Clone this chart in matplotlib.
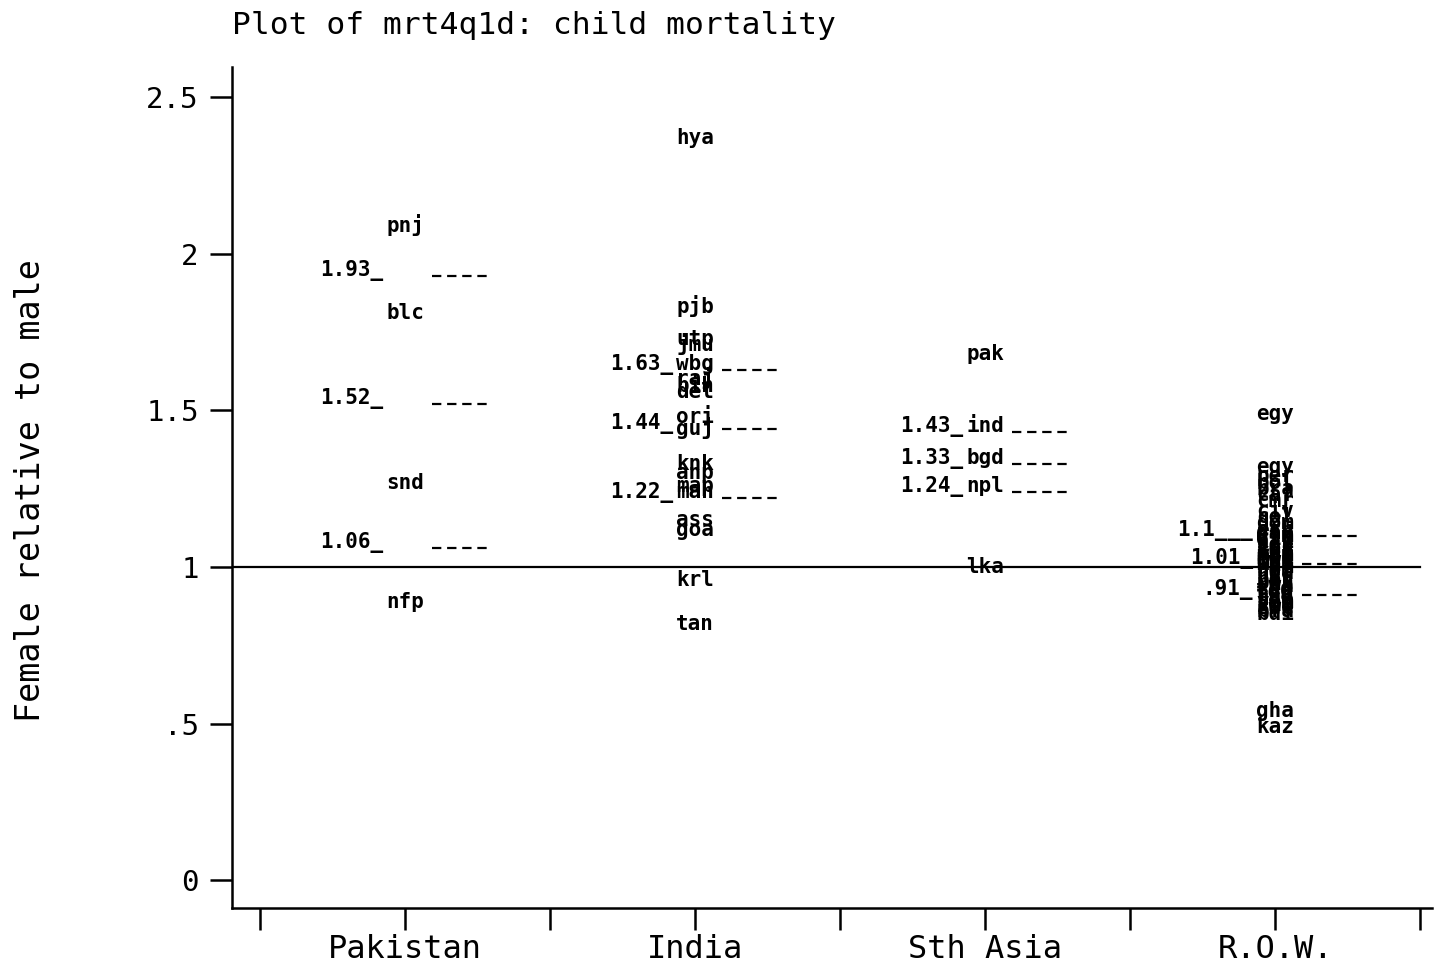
import matplotlib
matplotlib.use("Agg")
import matplotlib.pyplot as plt

# groups along the x axis
groups = ["Pakistan", "India", "Sth Asia", "R.O.W."]

# labelled points per group
pak_names = ["pnj", "blc", "snd", "nfp"]
pak_vals = [2.07, 1.79, 1.25, 0.87]

ind_names = ["hya", "pjb", "utp", "jmu", "wbg", "raj", "bih", "del", "ori",
             "guj", "knk", "anp", "map", "mah", "ass", "goa", "krl", "tan"]
ind_vals = [2.35, 1.81, 1.71, 1.69, 1.63, 1.58, 1.56, 1.54, 1.46,
            1.42, 1.31, 1.28, 1.24, 1.22, 1.13, 1.10, 0.94, 0.80]

sas_names = ["pak", "ind", "bgd", "npl", "lka"]
sas_vals = [1.66, 1.43, 1.33, 1.24, 0.98]

row_names = ["egy", "egy", "per", "bol", "bra", "caf", "cmr", "civ", "col",
             "dom", "ecu", "eth", "gab", "gtm", "gin", "hti", "idn", "jor",
             "ken", "khm", "mar", "mdg", "mli", "mwi", "moz", "nam", "ner",
             "nga", "nic", "ben", "phl", "rwa", "sen", "tcd", "tgo", "tza",
             "uga", "yem", "zmb", "zwe", "bfa", "bdi", "gha", "kaz"]
row_vals = [1.47, 1.30, 1.27, 1.25, 1.23, 1.21, 1.19, 1.16, 1.14, 1.12,
            1.10, 1.10, 1.09, 1.08, 1.07, 1.06, 1.05, 1.04, 1.03, 1.02,
            1.02, 1.01, 1.01, 1.00, 0.99, 0.98, 0.97, 0.96, 0.95, 0.94,
            0.93, 0.92, 0.91, 0.91, 0.90, 0.89, 0.88, 0.87, 0.86, 0.85,
            0.84, 0.83, 0.52, 0.47]

# upper quartile, median, lower quartile per group
quart_vals = [[1.93, 1.52, 1.06],
              [1.63, 1.44, 1.22],
              [1.43, 1.33, 1.24],
              [1.10, 1.01, 0.91]]
quart_text = [["1.93_", "1.52_", "1.06_"],
              ["1.63_", "1.44_", "1.22_"],
              ["1.43_", "1.33_", "1.24_"],
              ["1.1___", "1.01_", ".91_"]]

yticks = [0, 0.5, 1, 1.5, 2, 2.5]
ytick_labels = ["0", ".5", "1", "1.5", "2", "2.5"]

names = [pak_names, ind_names, sas_names, row_names]
vals = [pak_vals, ind_vals, sas_vals, row_vals]

mono = "DejaVu Sans Mono"
plt.rcParams["font.family"] = mono

fig = plt.figure(figsize=(14.38, 9.67), dpi=100)
ax = fig.add_axes([0.1613, 0.061, 0.8345, 0.8697])

x0, x1 = 0.403, 4.541
ax.set_xlim(x0, x1)
ax.set_ylim(-0.089, 2.596)

# reference line at 1, ends at the last tick
ax.axhline(1, xmax=(len(groups) + 0.5 - x0) / (x1 - x0), color="black",
           lw=1.6, zorder=1)

for i, grp in enumerate(groups):
    c = i + 1
    for nm, v in zip(names[i], vals[i]):
        ax.text(c, v, nm, ha="center", va="baseline", fontsize=15,
                fontweight="bold", zorder=3)
    for q, qt in zip(quart_vals[i], quart_text[i]):
        ax.text(c - 0.075, q, qt, ha="right", va="baseline", fontsize=15,
                fontweight="bold")
        ax.plot([c + 0.093, c + 0.286], [q, q], color="black", lw=1.6,
                dashes=(4.2, 2.6))

xt = [0.5, 1, 1.5, 2, 2.5, 3, 3.5, 4, 4.5]
xl = ["", groups[0], "", groups[1], "", groups[2], "", groups[3], ""]
ax.set_xticks(xt)
ax.set_xticklabels(xl, fontsize=23)
ax.set_yticks(yticks)
ax.set_yticklabels(ytick_labels, fontsize=21)

for s in ["top", "right"]:
    ax.spines[s].set_visible(False)
for s in ["left", "bottom"]:
    ax.spines[s].set_linewidth(1.8)
ax.tick_params(axis="both", length=16, width=1.8, direction="out")
ax.tick_params(axis="y", pad=8)
ax.tick_params(axis="x", pad=3)

fig.text(0.1613, 0.974, "Plot of mrt4q1d: child mortality", fontsize=22.5,
         ha="left", va="center")
fig.text(0.021, 0.493, "Female relative to male", fontsize=24,
         rotation=90, ha="center", va="center")

fig.savefig("out.png", dpi=100)
